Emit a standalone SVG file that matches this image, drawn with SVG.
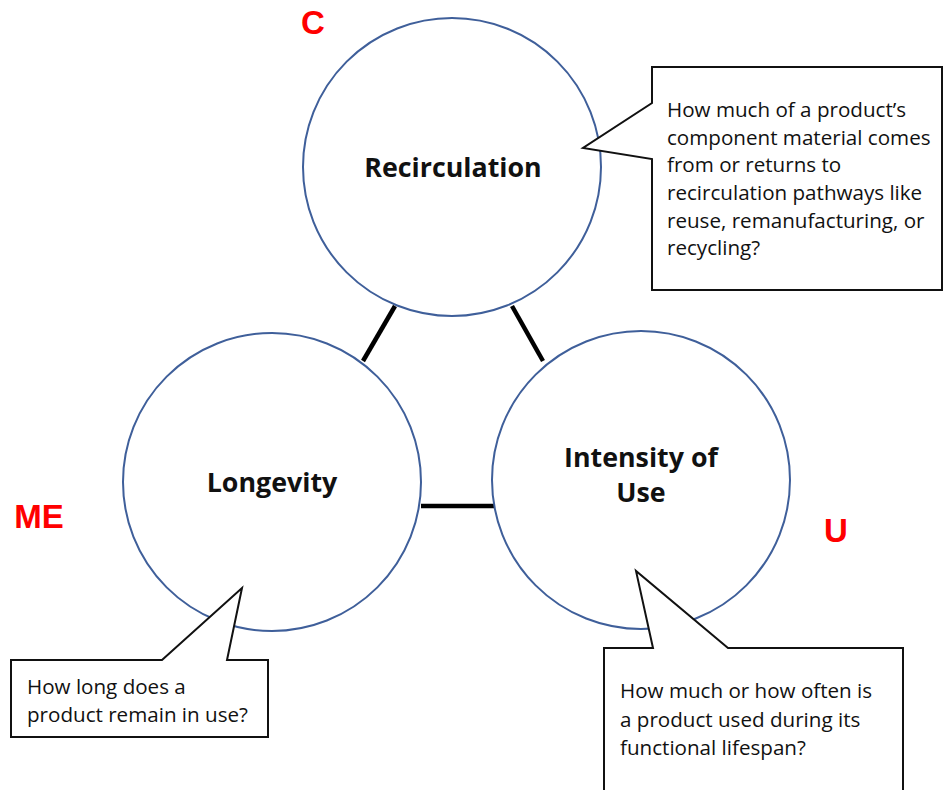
<svg xmlns="http://www.w3.org/2000/svg" width="943" height="790" viewBox="0 0 943 790">
<style>
.circ{fill:#fff;stroke:#3f5f9a;stroke-width:2}
.conn{stroke:#000;stroke-width:4.5;fill:none}
.title{font-family:"Open Sans","Noto Sans",sans-serif;font-weight:bold;font-size:26.8px;fill:#111;text-anchor:middle}
.call{fill:#fff;stroke:#111;stroke-width:2}
.ctext{font-family:"Open Sans","Noto Sans",sans-serif;font-size:20.6px;fill:#111}
.tag{font-family:"Liberation Sans",Arial,sans-serif;font-weight:bold;font-size:33px;fill:#f00}
</style>
<rect width="943" height="790" fill="#fff"/>
<g id="connectors">
<line class="conn" x1="395" y1="306" x2="363" y2="361"/>
<line class="conn" x1="512" y1="306" x2="543" y2="361"/>
<line class="conn" x1="421" y1="506" x2="494" y2="506"/>
</g>
<g id="recirculation">
<circle class="circ" cx="452" cy="167" r="149"/>
<text class="title" x="453" y="177">Recirculation</text>
</g>
<g id="longevity">
<circle class="circ" cx="272" cy="482" r="149"/>
<text class="title" x="272" y="492">Longevity</text>
</g>
<g id="intensity">
<circle class="circ" cx="641" cy="480" r="149"/>
<text class="title" x="641" y="467">Intensity of</text>
<text class="title" x="641" y="502">Use</text>
</g>
<g id="callout-recirculation">
<path class="call" d="M652,67 H942 V290 H652 V159 L583,148 L652,103 Z"/>
<text class="ctext" x="667" y="117">How much of a product’s</text>
<text class="ctext" x="667" y="145">component material comes</text>
<text class="ctext" x="667" y="172">from or returns to</text>
<text class="ctext" x="667" y="200">recirculation pathways like</text>
<text class="ctext" x="667" y="228">reuse, remanufacturing, or</text>
<text class="ctext" x="667" y="255">recycling?</text>
</g>
<g id="callout-longevity">
<path class="call" d="M11,660 H162 L242,588 L227,660 H268 V737 H11 Z"/>
<text class="ctext" x="27" y="694">How long does a</text>
<text class="ctext" x="27" y="722">product remain in use?</text>
</g>
<g id="callout-intensity">
<path class="call" d="M604,648 H653 L636,571 L728,648 H903 V800 H604 Z"/>
<text class="ctext" x="620" y="698">How much or how often is</text>
<text class="ctext" x="620" y="727">a product used during its</text>
<text class="ctext" x="620" y="755">functional lifespan?</text>
</g>
<g id="tags">
<text class="tag" x="313" y="34" text-anchor="middle">C</text>
<text class="tag" x="39" y="528" text-anchor="middle">ME</text>
<text class="tag" x="836" y="542" text-anchor="middle">U</text>
</g>
</svg>
